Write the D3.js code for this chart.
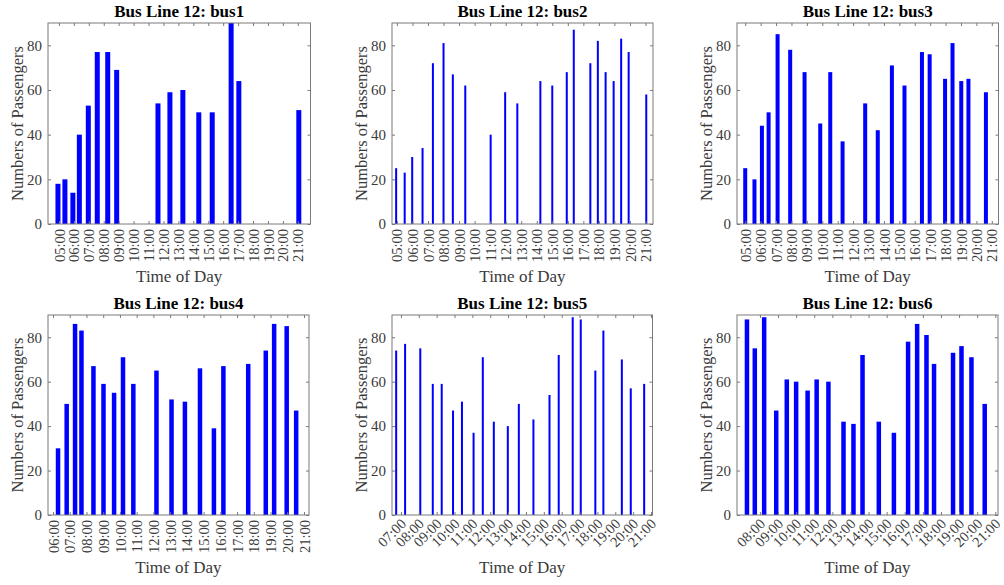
<!DOCTYPE html>
<html>
<head>
<meta charset="utf-8">
<script src="https://cdn.jsdelivr.net/npm/d3@7"></script>
<style>
  html, body { margin: 0; padding: 0; background: #fff; }
  svg { display: block; }
  text { font-family: "Liberation Serif", "Times New Roman", serif; }
</style>
</head>
<body>
<svg id="chart" width="1004" height="585"></svg>
<script>
// ---------------- data ----------------
const busNames = ["bus1", "bus2", "bus3", "bus4", "bus5", "bus6"];

const bus1Times = ["04:56","05:24","05:56","06:22","06:58","07:34","08:16","08:52","11:38","12:26","13:18","14:22","15:16","16:32","17:03","21:04"];
const bus1Values = [18, 20, 14, 40, 53, 77, 77, 69, 54, 59, 60, 50, 50, 90, 64, 51];

const bus2Times = ["04:57","05:30","05:59","06:39","07:19","08:00","08:36","09:24","11:02","11:58","12:45","14:14","15:00","15:56","16:23","17:27","17:56","18:26","18:57","19:26","19:55","21:03"];
const bus2Values = [25, 23, 30, 34, 72, 81, 67, 62, 40, 59, 54, 64, 62, 68, 87, 72, 82, 68, 64, 83, 77, 58];

const bus3Times = ["05:00","05:36","06:05","06:31","07:06","07:55","08:51","09:52","10:31","11:19","12:47","13:36","14:31","15:20","16:28","16:58","17:58","18:27","19:01","19:29","20:37"];
const bus3Values = [25, 20, 44, 50, 85, 78, 68, 45, 68, 37, 54, 42, 71, 62, 77, 76, 65, 81, 64, 65, 59];

const bus4Times = ["06:18","06:49","07:19","07:42","08:25","09:01","09:39","10:11","10:48","12:11","13:05","13:53","14:47","15:37","16:11","17:40","18:43","19:13","19:58","20:32"];
const bus4Values = [30, 50, 86, 83, 67, 59, 55, 71, 59, 65, 52, 51, 66, 39, 67, 68, 74, 86, 85, 47];

const bus5Times = ["06:44","07:14","08:05","08:47","09:17","09:55","10:25","11:04","11:35","12:12","12:59","13:36","14:25","15:19","15:50","16:37","17:04","17:53","18:20","19:22","19:52","20:37"];
const bus5Values = [74, 77, 75, 59, 59, 47, 51, 37, 71, 42, 40, 50, 43, 54, 72, 89, 88, 65, 83, 70, 57, 59];

const bus6Times = ["07:17","07:43","08:14","08:54","09:29","10:00","10:38","11:08","11:47","12:37","13:10","13:40","14:34","15:24","16:11","16:41","17:12","17:37","18:40","19:08","19:41","20:25"];
const bus6Values = [88, 75, 89, 47, 61, 60, 56, 61, 60, 42, 41, 72, 42, 37, 78, 86, 81, 68, 73, 76, 71, 50];

// x-axis limits and hourly tick labels per bus
const xLimits = [["04:16","21:51"], ["04:41","21:29"], ["04:28","21:26"], ["05:42","21:18"], ["06:30","21:05"], ["06:44","21:09"]];
const tickLabels5to21 = ["05:00","06:00","07:00","08:00","09:00","10:00","11:00","12:00","13:00","14:00","15:00","16:00","17:00","18:00","19:00","20:00","21:00"];
const tickLabels6to21 = tickLabels5to21.slice(1);
const tickLabels7to21 = tickLabels5to21.slice(2);
const tickLabels8to21 = tickLabels5to21.slice(3);
const xTickSets = [tickLabels5to21, tickLabels5to21, tickLabels5to21, tickLabels6to21, tickLabels7to21, tickLabels8to21];

const yTicks = [0, 20, 40, 60, 80];
const yMax = 90;

const timesList = [bus1Times, bus2Times, bus3Times, bus4Times, bus5Times, bus6Times];
const valuesList = [bus1Values, bus2Values, bus3Values, bus4Values, bus5Values, bus6Values];

// ---------------- layout (styling) ----------------
const panels = [
  { x0: 48,  x1: 310.5, y0: 23,  y1: 224, barW: 5,   rot: 90 },
  { x0: 392, x1: 653,   y0: 23,  y1: 224, barW: 2,   rot: 90 },
  { x0: 737, x1: 998.5, y0: 23,  y1: 224, barW: 4,   rot: 90 },
  { x0: 48,  x1: 309,   y0: 315, y1: 515, barW: 4.5, rot: 90 },
  { x0: 392, x1: 652.5, y0: 315, y1: 515, barW: 2,   rot: 45 },
  { x0: 737, x1: 998,   y0: 315, y1: 515, barW: 4.5, rot: 45 }
];

const parseT = d3.timeParse("%H:%M");
const fmtT = d3.timeFormat("%H:%M");
const svg = d3.select("#chart");
const axisColor = "#7a7a7a";
const textColor = "#3a3a3a";

panels.forEach((p, i) => {
  const times = timesList[i].map(parseT);
  const vals = valuesList[i];
  const x = d3.scaleTime().domain(xLimits[i].map(parseT)).range([p.x0, p.x1]);
  const y = d3.scaleLinear().domain([0, yMax]).range([p.y1, p.y0]);
  const ticks = xTickSets[i].map(parseT);

  const g = svg.append("g");

  const clipId = "clip" + i;
  g.append("clipPath").attr("id", clipId)
    .append("rect").attr("x", p.x0).attr("y", p.y0).attr("width", p.x1 - p.x0).attr("height", p.y1 - p.y0);

  // bars
  g.append("g").attr("clip-path", `url(#${clipId})`)
    .selectAll("rect").data(vals).join("rect")
    .attr("x", (d, j) => x(times[j]) - p.barW / 2)
    .attr("y", d => y(d))
    .attr("width", p.barW)
    .attr("height", d => y(0) - y(d))
    .attr("fill", "#0000ff");

  // axes (inward ticks on all four sides)
  const tl = 3;
  const left = g.append("g").attr("transform", `translate(${p.x0},0)`)
    .call(d3.axisLeft(y).tickValues(yTicks).tickSize(-tl).tickPadding(6));
  const right = g.append("g").attr("transform", `translate(${p.x1},0)`)
    .call(d3.axisRight(y).tickValues(yTicks).tickSize(-tl).tickFormat(""));
  const bottom = g.append("g").attr("transform", `translate(0,${p.y1})`)
    .call(d3.axisBottom(x).tickValues(ticks).tickSize(-tl).tickFormat(fmtT).tickPadding(5));
  const top = g.append("g").attr("transform", `translate(0,${p.y0})`)
    .call(d3.axisTop(x).tickValues(ticks).tickSize(-tl).tickFormat(""));

  [left, right, bottom, top].forEach(a => {
    a.select(".domain").remove();
    a.selectAll(".tick line").attr("stroke", axisColor);
  });
  left.selectAll(".tick text")
    .attr("font-size", 15).attr("fill", textColor)
    .attr("font-family", "Liberation Serif");

  bottom.selectAll(".tick text")
    .attr("font-size", 14.5).attr("fill", textColor)
    .attr("font-family", "Liberation Serif")
    .attr("text-anchor", "end")
    .attr("y", 0)
    .attr("dy", "0.35em")
    .attr("transform", p.rot === 90 ? "translate(0,5) rotate(-90)" : "translate(2,6) rotate(-45)");

  // box
  g.append("rect")
    .attr("x", p.x0).attr("y", p.y0)
    .attr("width", p.x1 - p.x0).attr("height", p.y1 - p.y0)
    .attr("fill", "none").attr("stroke", axisColor).attr("stroke-width", 1);

  const cx = (p.x0 + p.x1) / 2;
  // title
  g.append("text")
    .attr("x", cx).attr("y", p.y0 - 6)
    .attr("text-anchor", "middle")
    .attr("font-size", 17).attr("font-weight", "bold").attr("fill", "#000")
    .text("Bus Line 12: " + busNames[i]);
  // x label
  g.append("text")
    .attr("x", cx).attr("y", p.y1 + 58)
    .attr("text-anchor", "middle")
    .attr("font-size", 17).attr("fill", textColor)
    .text("Time of Day");
  // y label
  g.append("text")
    .attr("transform", `translate(${p.x0 - 31},${(p.y0 + p.y1) / 2}) rotate(-90)`)
    .attr("text-anchor", "middle")
    .attr("dy", "0.35em")
    .attr("font-size", 16.5).attr("fill", textColor)
    .text("Numbers of Passengers");
});
</script>
</body>
</html>
